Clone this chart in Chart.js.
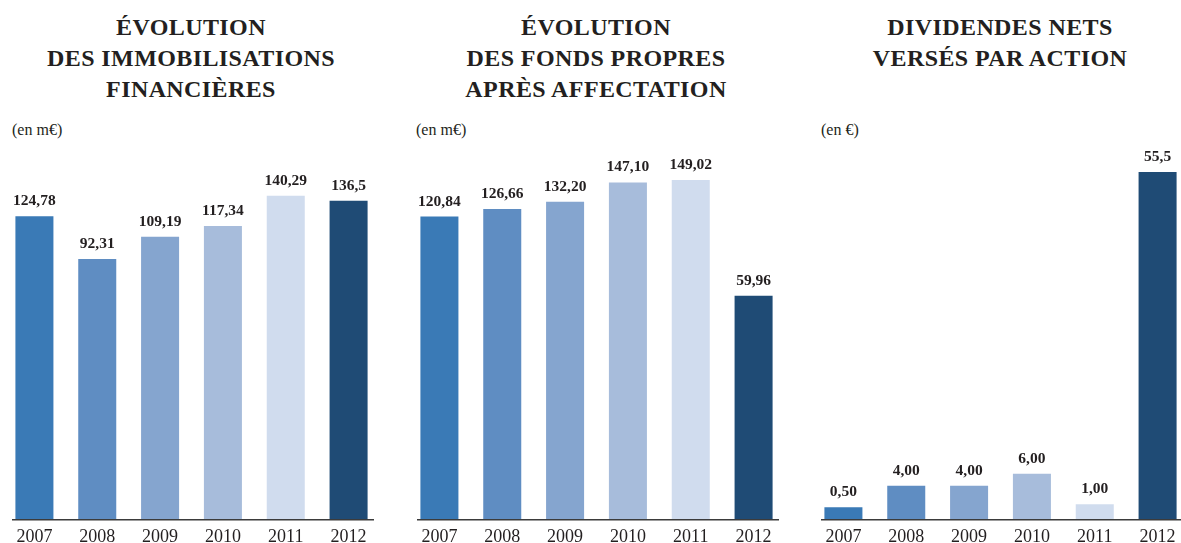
<!DOCTYPE html>
<html>
<head>
<meta charset="utf-8">
<script src="https://cdn.jsdelivr.net/npm/chart.js@4.4.0/dist/chart.umd.min.js"></script>
<style>
  html, body { margin:0; padding:0; width:1181px; height:543px; overflow:hidden; background:#fff; }
  .title { position:absolute; top:12px; width:400px; text-align:center; font-family:"Liberation Serif", serif; font-weight:bold; font-size:24px; line-height:31px; color:#231f20; letter-spacing:0.4px; }
  .unit { position:absolute; top:121px; font-family:"Liberation Serif", serif; font-size:16px; line-height:18px; color:#231f20; }
  canvas { position:absolute; top:140px; }
</style>
</head>
<body>
<div class="title" style="left:-9px">ÉVOLUTION<br>DES IMMOBILISATIONS<br>FINANCIÈRES</div>
<div class="title" style="left:396px">ÉVOLUTION<br>DES FONDS PROPRES<br>APRÈS AFFECTATION</div>
<div class="title" style="left:800px">DIVIDENDES NETS<br>VERSÉS PAR ACTION</div>
<div class="unit" style="left:12px">(en m€)</div>
<div class="unit" style="left:416px">(en m€)</div>
<div class="unit" style="left:821px">(en €)</div>
<canvas id="c1" width="377" height="415" style="left:3px"></canvas>
<canvas id="c2" width="377" height="415" style="left:408px"></canvas>
<canvas id="c3" width="377" height="415" style="left:812px"></canvas>
<script>
const years = ['2007', '2008', '2009', '2010', '2011', '2012'];
const immobilisations = [124.78, 92.31, 109.19, 117.34, 140.29, 136.5];
const immobilisationsLabels = ['124,78', '92,31', '109,19', '117,34', '140,29', '136,5'];
const fondsPropres = [120.84, 126.66, 132.20, 147.10, 149.02, 59.96];
const fondsPropresLabels = ['120,84', '126,66', '132,20', '147,10', '149,02', '59,96'];
const dividendes = [0.50, 4.00, 4.00, 6.00, 1.00, 55.5];
const dividendesLabels = ['0,50', '4,00', '4,00', '6,00', '1,00', '55,5'];

const barColors = ['#3a7ab6', '#5f8dc2', '#85a5cf', '#a7bcdb', '#d0dcee', '#1f4b75'];
const textColor = '#231f20';

const axisLine = {
  id: 'axisLine',
  afterDatasetsDraw(chart) {
    const { ctx, chartArea: a } = chart;
    ctx.save();
    ctx.strokeStyle = '#3b3b3b';
    ctx.lineWidth = 1.5;
    ctx.beginPath();
    ctx.moveTo(a.left + 9, a.bottom + 0.25);
    ctx.lineTo(a.right - 6, a.bottom + 0.25);
    ctx.stroke();
    ctx.restore();
  }
};

const valueLabels = {
  id: 'valueLabels',
  afterDatasetsDraw(chart, args, opts) {
    const { ctx } = chart;
    const meta = chart.getDatasetMeta(0);
    ctx.save();
    ctx.font = 'bold 15.5px "Liberation Serif", serif';
    ctx.fillStyle = textColor;
    ctx.textAlign = 'center';
    ctx.textBaseline = 'alphabetic';
    meta.data.forEach((bar, i) => {
      ctx.fillText(opts.labels[i], bar.x, bar.y - 11);
    });
    ctx.restore();
  }
};

function makeChart(id, values, labels, yMin, yMax) {
  new Chart(document.getElementById(id), {
    type: 'bar',
    data: {
      labels: years,
      datasets: [{
        data: values,
        backgroundColor: barColors,
        borderWidth: 0,
        base: yMin,
        categoryPercentage: 1.0,
        barPercentage: 0.605
      }]
    },
    options: {
      responsive: false,
      animation: false,
      layout: { padding: { top: 10, left: 0, right: 0, bottom: 0 } },
      plugins: {
        legend: { display: false },
        tooltip: { enabled: false },
        valueLabels: { labels: labels }
      },
      scales: {
        x: {
          grid: { display: false, drawTicks: false },
          border: { display: false },
          ticks: {
            color: textColor,
            padding: 7,
            font: { family: '"Liberation Serif", serif', size: 18 }
          }
        },
        y: {
          display: false,
          min: yMin,
          max: yMax
        }
      }
    },
    plugins: [axisLine, valueLabels]
  });
}

makeChart('c1', immobilisations, immobilisationsLabels, -105, 175);
makeChart('c2', fondsPropres, fondsPropresLabels, -112, 172);
makeChart('c3', dividendes, dividendesLabels, -1.5, 59.1);
</script>
</body>
</html>
